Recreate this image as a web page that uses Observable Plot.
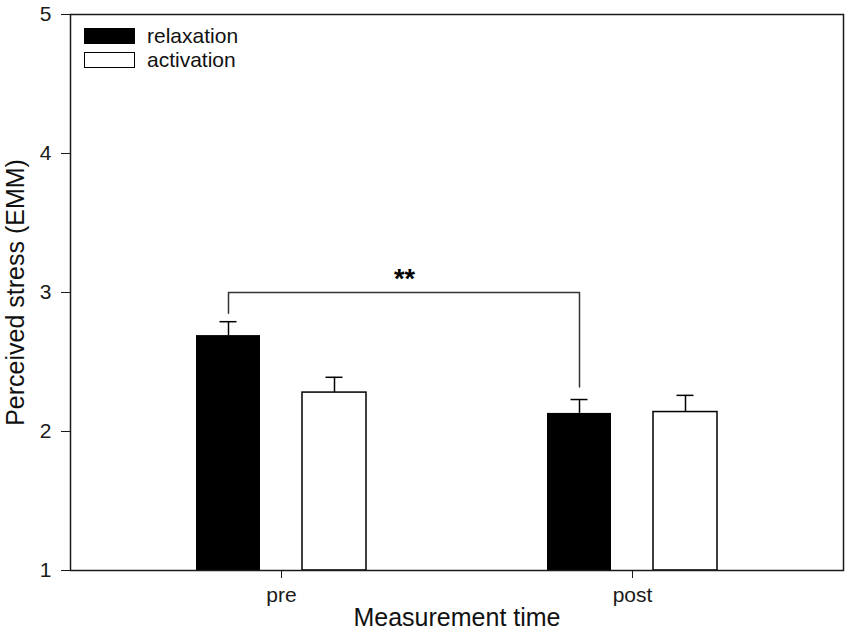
<!DOCTYPE html>
<html>
<head>
<meta charset="utf-8">
<script src="https://cdn.jsdelivr.net/npm/d3@7"></script>
<script src="https://cdn.jsdelivr.net/npm/@observablehq/plot@0.6"></script>
<style>
  body { margin: 0; background: #fff; }
  #wrap { position: relative; width: 850px; height: 639px; font-family: "Liberation Sans", Arial, sans-serif; }
  .lg { position: absolute; left: 84px; width: 51px; height: 16px; box-sizing: border-box; }
  .lt { position: absolute; left: 147px; font-size: 21px; line-height: 24px; color: #111; }
</style>
</head>
<body>
<div id="wrap"></div>
<script>
const groups = ["pre", "post"];
const conditions = ["relaxation", "activation"];
const relaxationMean = [2.69, 2.13];
const relaxationUpper = [2.79, 2.23];
const activationMean = [2.28, 2.14];
const activationUpper = [2.39, 2.26];
const yTicks = [1, 2, 3, 4, 5];
const bracketGroups = ["pre", "pre", "post", "post"];
const bracketValues = [2.85, 3.0, 3.0, 2.32];
const sigLabel = "**";
const xTitle = "Measurement time";
const yTitle = "Perceived stress (EMM)";

const relax = groups.map((g, i) => ({group: g, mean: relaxationMean[i], upper: relaxationUpper[i]}));
const activ = groups.map((g, i) => ({group: g, mean: activationMean[i], upper: activationUpper[i]}));
const bracket = bracketGroups.map((g, i) => ({group: g, value: bracketValues[i]}));

const off = 53;
const chart = Plot.plot({
  width: 850, height: 639,
  marginLeft: 70, marginRight: 7, marginTop: 14, marginBottom: 69,
  style: {fontFamily: "Liberation Sans, Arial, sans-serif", fontSize: "21px", color: "#1a1a1a", background: "#fff", overflow: "visible"},
  x: {type: "band", domain: groups, paddingInner: 0.516, paddingOuter: 0.359, tickSize: 8, tickPadding: 9, label: null},
  y: {domain: [1, 5], ticks: yTicks, tickSize: 9, tickPadding: 10, label: null, tickFormat: d3.format("d")},
  marks: [
    Plot.barY(relax, {x: "group", y1: 1, y2: "mean", fill: "#000", insetRight: 106}),
    Plot.barY(activ, {x: "group", y1: 1, y2: "mean", fill: "#fff", stroke: "#000", strokeWidth: 1.5, insetLeft: 106}),
    Plot.ruleX(relax, {x: "group", y1: "mean", y2: "upper", dx: -off, stroke: "#000", strokeWidth: 1.5}),
    Plot.tickY(relax, {x: "group", y: "upper", dx: -off, inset: 76.5, stroke: "#000", strokeWidth: 1.5}),
    Plot.ruleX(activ, {x: "group", y1: "mean", y2: "upper", dx: off, stroke: "#000", strokeWidth: 1.5}),
    Plot.tickY(activ, {x: "group", y: "upper", dx: off, inset: 76.5, stroke: "#000", strokeWidth: 1.5}),
    Plot.line(bracket, {x: "group", y: "value", dx: -off, stroke: "#333", strokeWidth: 1.5}),
    Plot.text([sigLabel], {x: () => "pre", y: () => 3.0, dx: 123, dy: -13, fontSize: 27, fontWeight: "bold", fill: "#000"}),
    Plot.frame({stroke: "#1a1a1a", strokeWidth: 1.5}),
    Plot.text([xTitle], {frameAnchor: "bottom", lineAnchor: "middle", dy: 47, fontSize: 25, fill: "#111"}),
    Plot.text([yTitle], {frameAnchor: "left", textAnchor: "middle", lineAnchor: "middle", rotate: -90, dx: -55, fontSize: 25, fill: "#111"})
  ]
});
const wrap = document.getElementById("wrap");
wrap.appendChild(chart);

// enlarge axis tick labels
const tickTexts = new Set([...groups, ...yTicks.map(String)]);
chart.querySelectorAll("text").forEach(t => {
  if (tickTexts.has(t.textContent.trim())) {
    t.setAttribute("font-size", "21");
    t.style.fontSize = "21px";
    if (t.parentNode && t.parentNode.tagName === "g") t.parentNode.style.fontSize = "21px";
  }
});

const lg = [
  {label: conditions[0], top: 28, style: "background:#000;"},
  {label: conditions[1], top: 52, style: "background:#fff;border:1.5px solid #000;"}
];
lg.forEach(d => {
  const s = document.createElement("div");
  s.className = "lg"; s.style.cssText = `top:${d.top}px;` + d.style;
  wrap.appendChild(s);
  const t = document.createElement("div");
  t.className = "lt"; t.style.top = (d.top - 4) + "px"; t.textContent = d.label;
  wrap.appendChild(t);
});
</script>
</body>
</html>
